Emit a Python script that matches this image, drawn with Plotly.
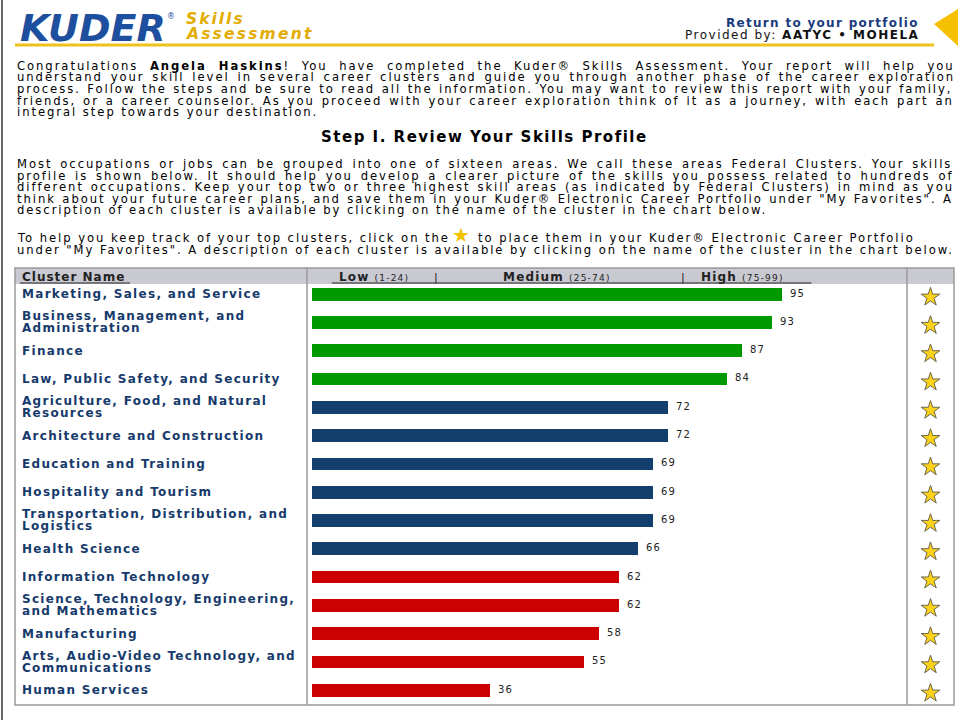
import re
import textwrap
import plotly.graph_objects as go

# ---------------- data ----------------
categories = [
    "Marketing, Sales, and Service",
    "Business, Management, and Administration",
    "Finance",
    "Law, Public Safety, and Security",
    "Agriculture, Food, and Natural Resources",
    "Architecture and Construction",
    "Education and Training",
    "Hospitality and Tourism",
    "Transportation, Distribution, and Logistics",
    "Health Science",
    "Information Technology",
    "Science, Technology, Engineering, and Mathematics",
    "Manufacturing",
    "Arts, Audio-Video Technology, and Communications",
    "Human Services",
]
scores = [95, 93, 87, 84, 72, 72, 69, 69, 69, 66, 62, 62, 58, 55, 36]
levels = ["high"] * 4 + ["mid"] * 6 + ["low"] * 5

band_names = ["Low", "Medium", "High"]
band_ranges = ["(1-24)", "(25-74)", "(75-99)"]
band_lo = [1, 25, 75]
band_hi = [24, 74, 99]

intro_lines = [
    "Congratulations <b>Angela Haskins</b>! You have completed the Kuder® Skills Assessment. Your report will help you",
    "understand your skill level in several career clusters and guide you through another phase of the career exploration",
    "process. Follow the steps and be sure to read all the information. You may want to review this report with your family,",
    "friends, or a career counselor. As you proceed with your career exploration think of it as a journey, with each part an",
    "integral step towards your destination.",
]
step_title = "Step I. Review Your Skills Profile"
para2_lines = [
    "Most occupations or jobs can be grouped into one of sixteen areas. We call these areas Federal Clusters. Your skills",
    "profile is shown below. It should help you develop a clearer picture of the skills you possess related to hundreds of",
    "different occupations. Keep your top two or three highest skill areas (as indicated by Federal Clusters) in mind as you",
    "think about your future career plans, and save them in your Kuder® Electronic Career Portfolio under \"My Favorites\". A",
    "description of each cluster is available by clicking on the name of the cluster in the chart below.",
]
para3_a = "To help you keep track of your top clusters, click on the"
para3_b = "to place them in your Kuder® Electronic Career Portfolio"
para3_c = "under \"My Favorites\". A description of each cluster is available by clicking on the name of the cluster in the chart below."

# ---------------- style ----------------
W, H = 960, 720
level_colors = {"high": "#009900", "mid": "#133f6c", "low": "#cc0000"}
NAVY = "#163a6b"
FONT = "DejaVu Sans"
GRID = "#9a9a9a"

# approximate DejaVu Sans advance widths (1/1000 em), used only to justify text lines
_w = {" ": 318, "!": 401, '"': 460, "(": 390, ")": 390, ",": 318, "-": 361, ".": 318,
      ":": 337, ";": 337, "?": 531, "®": 1000, "•": 590,
      "A": 684, "B": 686, "C": 698, "D": 770, "E": 632, "F": 575, "G": 775, "H": 752,
      "I": 295, "J": 295, "K": 656, "L": 557, "M": 863, "N": 748, "O": 787, "P": 603,
      "Q": 787, "R": 695, "S": 635, "T": 611, "U": 732, "V": 684, "W": 989, "X": 685,
      "Y": 611, "Z": 685,
      "a": 613, "b": 635, "c": 550, "d": 635, "e": 615, "f": 352, "g": 635, "h": 634,
      "i": 278, "j": 278, "k": 579, "l": 278, "m": 974, "n": 634, "o": 612, "p": 635,
      "q": 635, "r": 411, "s": 521, "t": 392, "u": 634, "v": 592, "w": 818, "x": 592,
      "y": 592, "z": 525}


def text_width(s, size):
    bold = False
    total = 0.0
    for part in re.split(r"(</?b>)", s):
        if part == "<b>":
            bold = True
        elif part == "</b>":
            bold = False
        else:
            for ch in part:
                w = _w.get(ch, 636)
                total += w * (1.1 if bold else 1.0)
    return total * size / 1000.0


def plain_len(s):
    return len(re.sub(r"</?b>", "", s))


def px(x):
    return x / W


def py(y):
    return 1 - y / H


def sp(text, ls, ws=0):
    return "<span style='letter-spacing:%.2fpx;word-spacing:%.2fpx'>%s</span>" % (ls, ws, text)


n = len(categories)
row_top, row_bot = 280.0, 704.3
y_dom = [py(row_bot), py(row_top)]
star_shift = 3 / H

fig = go.Figure()
fig.add_trace(go.Bar(
    x=scores, y=categories, orientation="h",
    marker=dict(color=[level_colors[l] for l in levels], line=dict(width=0)),
    width=0.45, hoverinfo="skip", showlegend=False,
))
fig.add_trace(go.Scatter(
    x=[0.5] * n, y=categories, xaxis="x2", yaxis="y2", mode="markers",
    marker=dict(symbol="star", size=14, color="#ffd21a",
                line=dict(color="#6b6750", width=1)),
    hoverinfo="skip", showlegend=False,
))

annotations = []
shapes = []

# value labels
for c, v in zip(categories, scores):
    annotations.append(dict(
        x=v, y=c, xref="x", yref="y", text=sp(str(v), 1.2), showarrow=False,
        xanchor="left", xshift=6, yshift=1,
        font=dict(family=FONT, size=10, color="#222222"),
    ))

# cluster names
for c in categories:
    lines = textwrap.wrap(c, width=33)
    k = len(lines)
    for i, ln in enumerate(lines):
        annotations.append(dict(
            x=px(20), y=c, xref="paper", yref="y", text=sp("<b>%s</b>" % ln, 1.3),
            showarrow=False, xanchor="left",
            yshift=(k - 1) * 6 - i * 12,
            font=dict(family=FONT, size=12, color=NAVY),
        ))

# table frame
tbl_l, tbl_r, tbl_t, tbl_b = 15, 954, 268, 705
shapes.append(dict(type="rect", xref="paper", yref="paper",
                   x0=px(tbl_l), x1=px(tbl_r), y0=py(284), y1=py(tbl_t),
                   fillcolor="#c9c9d2", line=dict(width=0), layer="below"))
shapes.append(dict(type="rect", xref="paper", yref="paper",
                   x0=px(tbl_l), x1=px(tbl_r), y0=py(tbl_b), y1=py(tbl_t),
                   line=dict(color=GRID, width=1.5)))
for xv in (307, 907):
    shapes.append(dict(type="line", xref="paper", yref="paper",
                       x0=px(xv), x1=px(xv), y0=py(tbl_b), y1=py(tbl_t),
                       line=dict(color=GRID, width=1.5)))

# header row
annotations.append(dict(x=px(20), y=py(277), xref="paper", yref="paper",
                        text=sp("<b>Cluster Name</b>", 1.0), showarrow=False, xanchor="left",
                        font=dict(family=FONT, size=12, color="#222222")))
shapes.append(dict(type="line", xref="paper", yref="paper",
                   x0=px(20), x1=px(130), y0=py(283), y1=py(283),
                   line=dict(color="#222222", width=1)))
shapes.append(dict(type="line", xref="x", yref="paper",
                   x0=4, x1=101, y0=py(283), y1=py(283),
                   line=dict(color="#222222", width=1)))
for i, (nm, rg, lo, hi) in enumerate(zip(band_names, band_ranges, band_lo, band_hi)):
    annotations.append(dict(
        x=(lo + hi) / 2, y=py(277), xref="x", yref="paper",
        text=sp("<b>%s</b> <span style='font-size:9px'>%s</span>" % (nm, rg), 1.2),
        showarrow=False, font=dict(family=FONT, size=12, color="#222222")))
    if i > 0:
        annotations.append(dict(
            x=lo, y=py(277), xref="x", yref="paper", text="|",
            showarrow=False, font=dict(family=FONT, size=11, color="#222222")))

# page header
annotations += [
    dict(x=px(18), y=py(28), xref="paper", yref="paper",
         text="<b><i>KUDER</i></b>", showarrow=False, xanchor="left",
         font=dict(family=FONT, size=38, color="#1d4f9e")),
    dict(x=px(165), y=py(16), xref="paper", yref="paper",
         text="®", showarrow=False, xanchor="left",
         font=dict(family=FONT, size=8, color="#1d4f9e")),
    dict(x=px(184), y=py(19), xref="paper", yref="paper",
         text=sp("<b><i>Skills</i></b>", 2.0), showarrow=False, xanchor="left",
         font=dict(family=FONT, size=15.5, color="#e3ac00")),
    dict(x=px(184), y=py(34), xref="paper", yref="paper",
         text=sp("<b><i>Assessment</i></b>", 2.2), showarrow=False, xanchor="left",
         font=dict(family=FONT, size=15.5, color="#e3ac00")),
    dict(x=px(921), y=py(23), xref="paper", yref="paper",
         text=sp("<b>Return to your portfolio</b>", 1.3), showarrow=False, xanchor="right",
         font=dict(family=FONT, size=12, color="#1a3b7d")),
    dict(x=px(921), y=py(35), xref="paper", yref="paper",
         text=sp("Provided by: <b>AATYC • MOHELA</b>", 1.5), showarrow=False, xanchor="right",
         font=dict(family=FONT, size=12, color="#111111")),
]
shapes.append(dict(type="line", xref="paper", yref="paper",
                   x0=px(15), x1=px(934), y0=py(45), y1=py(45),
                   line=dict(color="#eec21c", width=3)))
shapes.append(dict(type="path", xref="paper", yref="paper",
                   path="M %f,%f L %f,%f L %f,%f Z" % (px(934), py(24), px(958), py(9), px(958), py(46)),
                   fillcolor="#f5c000", line=dict(width=0)))
shapes.append(dict(type="line", xref="paper", yref="paper",
                   x0=px(2), x1=px(2), y0=0, y1=1,
                   line=dict(color="#6a6a6a", width=2)))

# body text (justified like the web page)
BSIZE = 11.6
BODY = dict(family=FONT, size=BSIZE, color="#000000")
TEXT_L, TEXT_R = 15, 954
FULL = TEXT_R - TEXT_L
LS = (FULL - text_width(para3_c, BSIZE)) / plain_len(para3_c)


def body_line(s, y, justify, x0=TEXT_L):
    ws = 0.0
    if justify:
        natural = text_width(s, BSIZE) + LS * plain_len(s)
        nsp = s.count(" ")
        ws = max(0.0, (FULL - natural) / max(nsp, 1))
    annotations.append(dict(x=px(x0), y=py(y), xref="paper", yref="paper",
                            text=sp(s, LS, ws), showarrow=False, xanchor="left",
                            font=BODY))


for i, ln in enumerate(intro_lines):
    body_line(ln, 66 + i * 11.5, i < len(intro_lines) - 1)
annotations.append(dict(x=px(484), y=py(137), xref="paper", yref="paper",
                        text=sp("<b>%s</b>" % step_title, 1.5), showarrow=False,
                        font=dict(family=FONT, size=15, color="#000000")))
for i, ln in enumerate(para2_lines):
    body_line(ln, 164 + i * 11.5, i < len(para2_lines) - 1)
body_line(para3_a, 238, False)
annotations.append(dict(x=px(461), y=py(235), xref="paper", yref="paper",
                        text="★", showarrow=False,
                        font=dict(family=FONT, size=20, color="#f2c200")))
body_line(para3_b, 238, False, x0=476)
body_line(para3_c, 249.5, False)

for a in annotations:
    a.setdefault("yanchor", "middle")

hidden = dict(visible=False, showgrid=False, zeroline=False, fixedrange=True)
fig.update_layout(
    width=W, height=H, autosize=False,
    margin=dict(l=0, r=0, t=0, b=0, pad=0),
    paper_bgcolor="white", plot_bgcolor="rgba(0,0,0,0)",
    showlegend=False, bargap=0,
    xaxis=dict(domain=[px(312), px(907)], range=[0, (907 - 312) / 4.945], **hidden),
    yaxis=dict(domain=y_dom, type="category", categoryorder="array",
               categoryarray=categories, range=[n - 0.5, -0.5], **hidden),
    xaxis2=dict(domain=[px(907), px(954)], range=[0, 1], anchor="y2", **hidden),
    yaxis2=dict(domain=[y_dom[0] - star_shift, y_dom[1] - star_shift], type="category",
                categoryorder="array", categoryarray=categories,
                range=[n - 0.5, -0.5], anchor="x2", **hidden),
    annotations=annotations, shapes=shapes,
    font=dict(family=FONT),
)

fig.write_html("out.html", config={"displayModeBar": False, "staticPlot": True},
               post_script="document.body.style.margin='0';document.body.style.overflow='hidden';")
